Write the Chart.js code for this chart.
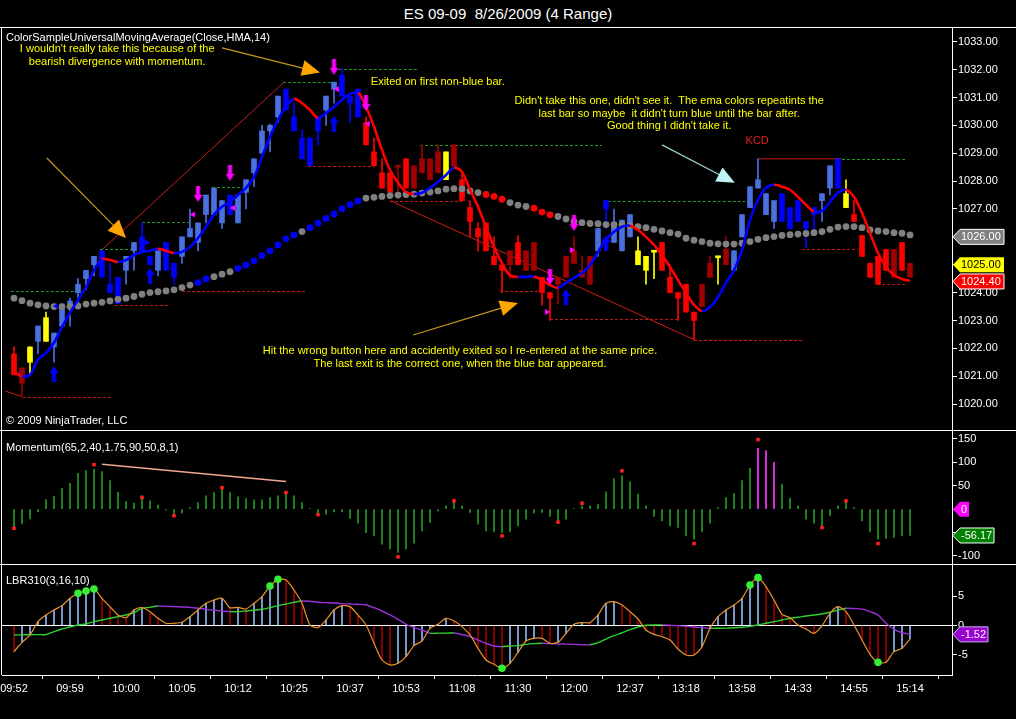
<!DOCTYPE html>
<html>
<head>
<meta charset="utf-8">
<script src="https://cdn.jsdelivr.net/npm/chart.js@4.4.1/dist/chart.umd.min.js"></script>
<style>
body { margin: 0; background: #000; }
#wrap { position: relative; width: 1016px; height: 719px; background: #000; overflow: hidden; }
#title { position: absolute; top: 5px; left: 0; width: 1016px; text-align: center; color: #fff; white-space: pre;
  font: 15px "Liberation Sans", Arial, sans-serif; }
canvas { position: absolute; left: 0; }
</style>
</head>
<body>
<div id="wrap">
  <div id="title">ES 09-09  8/26/2009 (4 Range)</div>
  <canvas id="price" width="1016" height="403" style="top:27px"></canvas>
  <canvas id="mom" width="1016" height="134" style="top:430px"></canvas>
  <canvas id="lbr" width="1016" height="155" style="top:564px"></canvas>
</div>
<script>
// ---- price bars (4 range) ----
const barOpen = [1021.8,1021.3,1021.5,1022.25,1022.25,1022.05,1022.8,1023.5,1024.0,1024.5,
  1025.0,1024.55,1024.0,1023.6,1024.8,1025.5,1025.5,1025.0,1024.8,1024.8,
  1024.55,1025.3,1026.0,1025.8,1026.8,1026.8,1026.5,1026.8,1026.5,1027.6,
  1028.3,1029.0,1029.8,1030.3,1030.55,1029.8,1028.8,1028.55,1029.8,1030.55,
  1031.3,1031.05,1030.8,1030.3,1030.1,1029.05,1028.3,1028.3,1028.55,1028.8,
  1028.55,1028.8,1028.8,1029.05,1028.05,1029.3,1028.05,1027.05,1026.3,1026.5,
  1025.3,1025.0,1025.5,1025.8,1025.5,1025.8,1024.55,1024.0,1024.55,1025.3,
  1025.5,1024.8,1025.3,1025.5,1027.0,1025.8,1025.5,1026.0,1025.5,1025.3,
  1025.5,1025.8,1024.55,1024.0,1024.3,1023.3,1024.3,1025.05,1025.3,1025.55,
  1024.8,1026.0,1027.05,1027.75,1026.8,1026.55,1026.55,1026.3,1026.55,1026.3,
  1026.8,1027.3,1027.75,1027.75,1027.55,1026.8,1026.05,1025.05,1025.3,1025.55,
  1025.55,1025.8,1025.05];
const barHigh = [1022.05,1021.3,1022.05,1022.8,1023.3,1022.55,1023.6,1023.8,1024.5,1024.8,
  1025.3,1025.5,1025.05,1024.55,1025.3,1025.8,1026.5,1025.3,1025.5,1025.8,
  1025.05,1026.0,1027.0,1026.5,1027.5,1027.75,1027.3,1027.5,1027.5,1028.05,
  1028.8,1030.0,1030.05,1031.05,1031.3,1030.8,1029.85,1029.55,1030.3,1031.05,
  1031.55,1032.05,1031.05,1031.3,1030.3,1029.55,1028.8,1028.3,1028.55,1028.8,
  1028.55,1029.3,1028.8,1029.3,1029.05,1029.3,1028.3,1027.3,1026.5,1026.5,
  1026.0,1025.0,1025.5,1026.05,1025.5,1025.8,1024.55,1024.0,1024.55,1025.3,
  1026.0,1025.3,1025.3,1026.3,1027.3,1027.0,1026.6,1026.8,1026.0,1025.3,
  1025.5,1025.8,1025.0,1024.0,1024.3,1023.3,1024.3,1025.3,1025.3,1026.0,
  1025.5,1026.8,1027.8,1028.8,1027.55,1027.3,1027.55,1027.05,1027.3,1026.55,
  1027.05,1027.55,1028.55,1028.8,1028.05,1027.3,1026.05,1025.05,1025.3,1025.55,
  1025.55,1025.8,1025.05];
const barLow = [1021.05,1020.3,1021.05,1021.8,1022.25,1021.5,1022.75,1022.8,1023.5,1024.1,
  1024.6,1024.55,1024.0,1023.6,1024.3,1024.8,1025.5,1025.0,1024.6,1024.8,
  1024.3,1025.05,1026.0,1025.5,1026.5,1026.8,1026.3,1026.8,1026.5,1027.0,
  1027.8,1029.0,1029.05,1030.1,1030.55,1029.8,1028.8,1028.55,1029.3,1030.0,
  1030.8,1031.05,1030.1,1030.3,1029.3,1028.55,1027.75,1027.6,1027.6,1027.75,
  1027.75,1028.3,1028.05,1028.3,1028.05,1028.55,1027.3,1026.0,1025.5,1025.5,
  1025.0,1024.0,1024.5,1025.0,1024.8,1024.8,1023.55,1023.0,1023.6,1024.55,
  1025.05,1024.55,1024.3,1025.3,1026.3,1025.8,1025.5,1026.0,1025.0,1024.3,
  1024.5,1024.8,1024.0,1023.0,1023.3,1022.3,1023.5,1024.55,1024.3,1025.0,
  1024.8,1026.0,1027.05,1027.75,1026.8,1026.3,1026.55,1026.3,1026.55,1025.6,
  1026.25,1026.55,1027.5,1027.75,1027.05,1026.55,1025.3,1024.55,1024.3,1024.8,
  1024.55,1024.8,1024.55];
const barClose = [1021.05,1020.75,1022.05,1022.8,1023.1,1022.55,1023.5,1023.7,1024.3,1024.8,
  1025.3,1025.5,1024.3,1024.55,1025.3,1025.8,1026.0,1025.3,1025.5,1025.8,
  1025.05,1026.0,1026.3,1026.5,1027.5,1027.75,1027.3,1027.5,1027.5,1028.05,
  1028.8,1029.8,1030.0,1031.05,1031.3,1030.3,1029.55,1029.55,1030.3,1031.05,
  1031.55,1031.8,1031.05,1031.3,1029.3,1028.55,1027.75,1027.6,1028.5,1027.75,
  1027.75,1028.3,1028.05,1028.3,1029.05,1028.55,1027.3,1026.55,1026.0,1025.5,
  1025.0,1024.8,1025.0,1025.0,1024.8,1024.8,1024.0,1023.8,1024.3,1024.55,
  1025.05,1024.55,1024.3,1026.3,1027.3,1026.5,1026.6,1026.8,1025.0,1024.8,
  1025.45,1024.8,1024.0,1023.8,1023.3,1023.0,1023.5,1024.55,1025.25,1025.0,
  1025.5,1026.8,1027.8,1028.05,1027.55,1027.3,1027.55,1027.05,1027.3,1026.55,
  1027.05,1027.55,1028.55,1028.8,1027.05,1026.55,1025.3,1024.55,1024.3,1024.8,
  1024.55,1024.8,1024.55];
// R red, D dark red, B blue, L light blue, Y yellow
const barColor = ('RDYLYLLLLL' + 'LBBBLLBBLB' + 'BLLLLLLBLL' + 'LLLLBBBBBL' + 'LBBBRRRRDR' +
  'DDDDYDRRRR' + 'RRDRDDRRDD' + 'DDDLBLLLYY' + 'YRRRRRDDYD' + 'LLLLLLBBBB' + 'BLLBYRRRRR' + 'DRD').split('');

// ---- HMA(14) ----
const hma = [1021.15,1021.0,1021.05,1021.6,1021.83,1022.2,1022.77,1023.27,1023.74,1024.2,
  1024.8,1025.2,1025.17,1025.1,1025.17,1025.35,1025.46,1025.5,1025.57,1025.5,
  1025.42,1025.46,1025.64,1025.96,1026.36,1026.8,1027.08,1027.26,1027.5,1027.76,
  1028.15,1028.87,1029.59,1030.2,1030.67,1030.95,1030.8,1030.55,1030.27,1030.45,
  1030.67,1030.92,1031.13,1031.17,1030.67,1029.95,1029.12,1028.4,1027.94,1027.61,
  1027.54,1027.58,1027.76,1027.97,1028.22,1028.48,1028.33,1027.69,1027.08,1026.36,
  1025.64,1025.06,1024.62,1024.56,1024.57,1024.58,1024.45,1024.27,1024.17,1024.35,
  1024.53,1024.7,1024.99,1025.46,1025.9,1026.18,1026.36,1026.4,1026.25,1026.0,
  1025.71,1025.35,1024.92,1024.45,1023.99,1023.56,1023.34,1023.48,1023.84,1024.35,
  1024.8,1025.53,1026.6,1027.33,1027.76,1027.87,1027.8,1027.69,1027.43,1027.15,
  1026.9,1026.93,1027.26,1027.58,1027.69,1027.43,1026.86,1026.14,1025.42,1024.92,
  1024.63,1024.49,1024.42];

// ---- dotted moving average ----
const maDots = [1023.8,1023.71,1023.62,1023.56,1023.52,1023.5,1023.5,1023.5,1023.52,1023.59,
  1023.62,1023.65,1023.7,1023.76,1023.8,1023.86,1023.94,1024.0,1024.03,1024.06,
  1024.1,1024.18,1024.27,1024.36,1024.49,1024.57,1024.66,1024.75,1024.87,1024.99,
  1025.14,1025.33,1025.5,1025.71,1025.93,1026.07,1026.19,1026.33,1026.49,1026.66,
  1026.82,1027.01,1027.16,1027.29,1027.39,1027.42,1027.45,1027.48,1027.5,1027.52,
  1027.53,1027.57,1027.61,1027.65,1027.71,1027.73,1027.72,1027.65,1027.59,1027.52,
  1027.45,1027.35,1027.23,1027.14,1027.09,1027.03,1026.89,1026.79,1026.73,1026.64,
  1026.55,1026.51,1026.48,1026.47,1026.44,1026.44,1026.43,1026.4,1026.37,1026.33,
  1026.27,1026.21,1026.15,1026.1,1025.95,1025.88,1025.83,1025.77,1025.75,1025.74,
  1025.74,1025.77,1025.83,1025.91,1025.97,1026.01,1026.05,1026.08,1026.1,1026.12,
  1026.15,1026.19,1026.27,1026.35,1026.37,1026.37,1026.33,1026.25,1026.21,1026.19,
  1026.15,1026.13,1026.07];
// G grey, B blue, R red
const maColor = ('GGGGGGGGGGGGGGGGGGGGGGG' + 'BB' + 'GGG' + 'BBBBBBBB' + 'G' + 'BBBBBBB' +
  'GGGGGGGGGGGGGGG' + 'RRR' + 'GGG' + 'RRR' +
  'GGGGGGGGGGGGGGGGGGGGGGGGGGGGGGGGGGGGGGGGGGGGG').split('');

// ---- trade markers ----
const entryIdx = [5, 17, 40, 69, 74];
const entryPrice = [1021.08, 1024.6, 1030.06, 1023.84, 1025.78];
const exitIdx = [23, 27, 40, 44, 67, 70];
const exitPrice = [1027.54, 1028.3, 1032.1, 1030.8, 1024.56, 1026.5];
const triIdx = [22.4, 27.4, 40.4, 44.25, 69.7, 66.6, 5.3, 16.6];
const triPrice = [1026.8, 1027.04, 1031.3, 1030.06, 1025.53, 1023.3, 1023.52, 1025.8];
const triDir = ['L', 'L', 'L', 'L', 'R', 'R', 'L', 'R'];
const triKind = ['m', 'm', 'm', 'm', 'm', 'm', 'b', 'b'];

// swing levels: [from bar, to bar, price]
const resistLevels = [[-0.4, 7.6, 1024.06], [10.75, 14.75, 1025.56], [16, 22, 1026.53], [24.75, 28.6, 1027.8],
  [33.6, 40, 1031.55], [40.6, 50.5, 1032.02], [50.75, 73.5, 1029.3], [73.6, 91.4, 1027.27], [103.5, 111.6, 1028.8]];
const supportLevels = [[1.1, 12.4, 1020.26], [12.6, 19.5, 1023.56], [21, 36.4, 1024.06], [36.75, 45.1, 1028.55],
  [47, 56, 1027.3], [60.75, 66.1, 1024.06], [67, 83, 1023.04], [85, 98.5, 1022.3], [98.5, 105.5, 1025.57],
  [107.9, 111.6, 1024.3]];
const trendLines = [[11.1, 1025.56, 33.75, 1031.55], [47, 1027.3, 85.1, 1022.3], [93, 1028.8, 103.5, 1028.8],
  [-1.1, 1020.47, 1, 1020.26]];

const priceTicks = [1020, 1021, 1022, 1023, 1024, 1025, 1026, 1027, 1028, 1029, 1030, 1031, 1032, 1033];

// ---- momentum ----
const momentum = [-39,-31.6,-20.9,-5.3,20.3,27.4,44.5,55.2,76.6,82.3,
  85.8,80.1,60.9,35.9,16,13.1,28.8,18.1,8.8,-2,
  -10.5,-8.3,3.6,14.2,28.5,35.6,42.7,35.6,26.4,22.8,
  20,20,25,28.5,32.1,28.5,14.2,1.4,-8.5,-10.7,
  -5.7,-5.7,-19.9,-29.9,-49.9,-57,-74.8,-85.5,-92.6,-85.5,
  -72.7,-46.3,-28.5,-3.6,7.1,20,7.1,-7.1,-32,-46.3,
  -48.4,-50,-48.4,-35.6,-21.4,-8.5,-7.1,-15.7,-24.9,-21.4,
  1.4,7.1,7.1,10,37,65.5,71.2,58.4,32.1,7.1,
  -15.7,-24.9,-35.6,-39.2,-57,-64.1,-48.4,-29.9,3.6,25,
  33.5,60.9,87.3,130,125,100,53.8,23.2,7.1,-21.4,
  -29.9,-35.6,-14.2,7.1,15.7,3.6,-24.9,-48.4,-64.1,-62.7,
  -60.5,-57,-56.2];
const momHotBars = [93, 94, 95];
const momMarkIdx = [0, 10, 16, 20, 26, 34, 38, 48, 55, 61, 68, 71, 76, 85, 93, 101, 104, 108];
const momMarkVal = [-40.8, 95, 25, -14, 46, 35.6, -11.8, -101.9, 17.9, -57, -27.6, 12.8, 81.9, -73.4, 148.6, -39.2, 17.9, -73.4];
const momDivIdx = [11, 34];
const momDivVal = [96, 59];
const momTicks = [-100, -50, 0, 50, 100, 150];

// ---- LBR310 ----
const lbrFast = [-4.48,-2.89,-1.62,0.66,1.8,2.66,3.4,4.65,5.51,5.9,
  6.25,4.65,3.23,1.8,1.34,2.66,3.05,2.37,1.23,0.38,
  0.38,0.55,1.51,2.66,3.8,4.37,4.65,3.05,3.11,2.83,
  3.8,4.94,6.76,7.9,7.79,6.08,3.8,0.09,-0.37,0.94,
  2.66,3.4,3.23,1.8,0.09,-3.05,-5.91,-6.76,-6.48,-5.34,
  -3.45,-2.66,-0.49,0.2,1.23,0.77,-0.2,-1.62,-3.91,-5.91,
  -6.65,-7.33,-6.48,-4.6,-2.66,-2.2,-2.2,-3.05,-2.89,-1.35,
  0.2,0.49,0.49,1.8,3.8,4.08,3.51,2.37,1.12,-0.77,
  -1.52,-1.92,-2.49,-4.03,-5.05,-5.05,-3.63,-0.49,1.51,2.66,
  3.51,4.65,6.93,8.19,6.65,4.37,1.91,1.34,0.09,-0.6,
  -1.35,-0.03,2.09,3.23,2.37,0.09,-2.49,-4.94,-6.31,-6.31,
  -4.48,-3.91,-2.32];
const lbrSlow = [-1.62,-1.6,-1.58,-1.56,-1.54,-1.05,-0.6,-0.26,0.09,0.26,
  0.66,0.94,1.23,1.51,1.8,2.2,2.94,3.11,3.34,3.28,
  3.23,3.17,3.11,2.94,2.77,2.6,2.48,2.37,2.38,2.48,
  2.6,2.77,3.05,3.4,3.68,3.97,4.2,4.14,3.97,3.91,
  3.86,3.74,3.68,3.63,3.51,3.05,2.48,1.8,1.06,0.2,
  -0.37,-0.77,-1.32,-1.31,-1.3,-1.29,-1.54,-1.92,-2.49,-3.05,
  -3.51,-3.63,-3.51,-3.45,-3.23,-3.11,-3.05,-3.1,-3.15,-3.2,
  -3.24,-3.28,-3.3,-2.94,-2.32,-1.75,-1.24,-0.72,-0.26,0.03,
  0.09,0.1,0.03,-0.03,-0.14,-0.26,-0.37,-0.49,-0.47,-0.45,
  -0.4,-0.3,-0.15,0.09,0.38,0.66,0.94,1.23,1.4,1.63,
  1.8,1.97,2.26,2.66,2.94,2.9,2.8,2.37,1.8,0.38,
  -0.66,-1.24,-1.52];
const lbrDotIdx = [8, 9, 10, 32, 33, 61, 92, 93, 108];
const lbrTicks = [-5, 0, 5];

const timeIdx = [0, 7, 14, 21, 28, 35, 42, 49, 56, 63, 70, 77, 84, 91, 98, 105, 112];
const timeLabels = ['09:52', '09:59', '10:00', '10:05', '10:12', '10:25', '10:37', '10:53', '11:08',
  '11:30', '12:00', '12:37', '13:18', '13:58', '14:33', '14:55', '15:14'];

// ---------------------------------------------------------------
const FONT = '"Liberation Sans", Arial, sans-serif';
Chart.defaults.font.family = FONT;
Chart.defaults.font.size = 11;
Chart.defaults.color = '#fff';
Chart.defaults.animation = false;
Chart.defaults.events = [];
Chart.defaults.plugins.legend.display = false;
Chart.defaults.plugins.tooltip.enabled = false;

const candleCols = { R: '#ff0000', D: '#a00000', B: '#0000ff', L: '#4a70e0', Y: '#ffff00' };
const dotCols = { G: '#808080', B: '#0000ff', R: '#ff0000' };
const X_MIN = -1.5, X_MAX = 117.25;
const idx = barOpen.map((_, i) => i);
const panelLayout = { autoPadding: false, padding: { left: 2, top: 0, right: 0, bottom: 0 } };

function arrowImg(color, up) {
  const c = document.createElement('canvas');
  c.width = 9; c.height = 16;
  const g = c.getContext('2d');
  g.fillStyle = color;
  g.beginPath();
  if (up) {
    g.moveTo(4.5, 0); g.lineTo(9, 7); g.lineTo(6.5, 7); g.lineTo(6.5, 16); g.lineTo(2.5, 16); g.lineTo(2.5, 7); g.lineTo(0, 7);
  } else {
    g.moveTo(4.5, 16); g.lineTo(9, 9); g.lineTo(6.5, 9); g.lineTo(6.5, 0); g.lineTo(2.5, 0); g.lineTo(2.5, 9); g.lineTo(0, 9);
  }
  g.closePath(); g.fill();
  return c;
}

function barAxis(extra) {
  return Object.assign({
    type: 'linear', min: X_MIN, max: X_MAX, offset: false, display: false
  }, extra || {});
}

function rightAxis(min, max, ticks, fmt) {
  return {
    position: 'right', min, max,
    afterBuildTicks: s => { s.ticks = ticks.map(v => ({ value: v })); },
    afterFit: s => { s.width = 64; s.paddingTop = 0; s.paddingBottom = 0; },
    ticks: { color: '#fff', padding: 1, callback: fmt },
    grid: { drawOnChartArea: false, color: '#fff', tickLength: 5 },
    border: { color: '#fff' }
  };
}

function drawFlag(ctx, x, y, w, text, bg, fg, edge) {
  ctx.save();
  ctx.beginPath();
  ctx.moveTo(x, y); ctx.lineTo(x + 7, y - 7.5); ctx.lineTo(x + w, y - 7.5);
  ctx.lineTo(x + w, y + 7.5); ctx.lineTo(x + 7, y + 7.5); ctx.closePath();
  ctx.fillStyle = bg; ctx.fill();
  if (edge) { ctx.strokeStyle = edge; ctx.lineWidth = 1; ctx.stroke(); }
  ctx.fillStyle = fg; ctx.font = '11px ' + FONT;
  ctx.textAlign = 'left'; ctx.textBaseline = 'middle';
  ctx.fillText(text, x + 8, y + 0.5);
  ctx.restore();
}

const framePlugin = {
  id: 'frame',
  afterDraw(chart) {
    const { ctx, chartArea } = chart;
    ctx.save();
    ctx.strokeStyle = '#fff'; ctx.lineWidth = 1;
    ctx.beginPath();
    ctx.moveTo(0, 0.5); ctx.lineTo(chart.width, 0.5);
    ctx.moveTo(1.5, 0); ctx.lineTo(1.5, chartArea.bottom);
    ctx.stroke();
    ctx.restore();
  }
};

function drawArrow(ctx, x0, y0, x1, y1, lineCol, headCol) {
  const a = Math.atan2(y1 - y0, x1 - x0), L = 18, H = 8;
  ctx.strokeStyle = lineCol; ctx.lineWidth = 1.2;
  ctx.beginPath(); ctx.moveTo(x0, y0); ctx.lineTo(x1 - L * Math.cos(a) * 0.6, y1 - L * Math.sin(a) * 0.6); ctx.stroke();
  ctx.fillStyle = headCol;
  ctx.beginPath();
  ctx.moveTo(x1, y1);
  ctx.lineTo(x1 - L * Math.cos(a) + H * Math.sin(a), y1 - L * Math.sin(a) - H * Math.cos(a));
  ctx.lineTo(x1 - L * Math.cos(a) - H * Math.sin(a), y1 - L * Math.sin(a) + H * Math.cos(a));
  ctx.closePath(); ctx.fill();
}

// annotations on the price panel, placed in bar/price units
const priceNotes = [
  { t: "I wouldn't really take this because of the", i: 12.9, p: 1032.75, c: '#ffff00', a: 'center' },
  { t: 'bearish divergence with momentum.', i: 12.9, p: 1032.28, c: '#ffff00', a: 'center' },
  { t: 'Exited on first non-blue bar.', i: 44.6, p: 1031.56, c: '#ffff00', a: 'left' },
  { t: "Didn't take this one, didn't see it.  The ema colors repeatints the", i: 81.9, p: 1030.88, c: '#ffff00', a: 'center' },
  { t: "last bar so maybe  it didn't turn blue until the bar after.", i: 81.9, p: 1030.41, c: '#ffff00', a: 'center' },
  { t: "Good thing I didn't take it.", i: 81.9, p: 1029.98, c: '#ffff00', a: 'center' },
  { t: 'KCD', i: 92.9, p: 1029.45, c: '#e02020', a: 'center' },
  { t: 'Hit the wrong button here and accidently exited so I re-entered at the same price.', i: 55.75, p: 1021.9, c: '#ffff00', a: 'center' },
  { t: 'The last exit is the correct one, when the blue bar appeared.', i: 55.75, p: 1021.44, c: '#ffff00', a: 'center' }
];
const priceArrows = [
  { from: [26, 1032.78], to: [38.25, 1031.9], line: '#c8961e', head: '#ffa500' },
  { from: [4.1, 1028.83], to: [14, 1025.96], line: '#c8961e', head: '#ffa500' },
  { from: [49.9, 1022.48], to: [63, 1023.63], line: '#c8961e', head: '#ffa500' },
  { from: [81, 1029.3], to: [90.1, 1027.94], line: '#9ccfcf', head: '#bff2f2' }
];

const levelPlugin = {
  id: 'levels',
  beforeDatasetsDraw(chart) {
    const { ctx, scales: { x, y } } = chart;
    ctx.save();
    ctx.lineWidth = 1;
    ctx.setLineDash([3, 2]);
    ctx.strokeStyle = '#1f9a1f';
    resistLevels.forEach(([a, b, p]) => {
      const yy = Math.round(y.getPixelForValue(p)) + 0.5;
      ctx.beginPath(); ctx.moveTo(x.getPixelForValue(a), yy); ctx.lineTo(x.getPixelForValue(b), yy); ctx.stroke();
    });
    ctx.strokeStyle = '#c01818';
    supportLevels.forEach(([a, b, p]) => {
      const yy = Math.round(y.getPixelForValue(p)) + 0.5;
      ctx.beginPath(); ctx.moveTo(x.getPixelForValue(a), yy); ctx.lineTo(x.getPixelForValue(b), yy); ctx.stroke();
    });
    ctx.setLineDash([]);
    ctx.strokeStyle = '#d01c1c';
    trendLines.forEach(([a, pa, b, pb]) => {
      ctx.beginPath(); ctx.moveTo(x.getPixelForValue(a), y.getPixelForValue(pa));
      ctx.lineTo(x.getPixelForValue(b), y.getPixelForValue(pb)); ctx.stroke();
    });
    ctx.restore();
  },
  afterDraw(chart) {
    const { ctx, chartArea, scales: { x, y } } = chart;
    ctx.save();
    priceArrows.forEach(ar => drawArrow(ctx, x.getPixelForValue(ar.from[0]), y.getPixelForValue(ar.from[1]),
      x.getPixelForValue(ar.to[0]), y.getPixelForValue(ar.to[1]), ar.line, ar.head));
    ctx.font = '11px ' + FONT;
    ctx.textBaseline = 'middle';
    priceNotes.forEach(n => {
      ctx.fillStyle = n.c; ctx.textAlign = n.a;
      ctx.fillText(n.t, x.getPixelForValue(n.i), y.getPixelForValue(n.p));
    });
    ctx.fillStyle = '#fff'; ctx.textAlign = 'left';
    ctx.fillText('ColorSampleUniversalMovingAverage(Close,HMA,14)', chartArea.left + 4, 11);
    ctx.fillText('\u00a9 2009 NinjaTrader, LLC', chartArea.left + 4, chartArea.bottom - 9);
    const ax = chartArea.right + 1;
    drawFlag(ctx, ax, y.getPixelForValue(1026.0), 51, '1026.00', '#808080', '#fff', '#fff');
    drawFlag(ctx, ax, y.getPixelForValue(1025.0), 51, '1025.00', '#ffff00', '#000', null);
    drawFlag(ctx, ax, y.getPixelForValue(1024.4), 51, '1024.40', '#ff0000', '#fff', '#fff');
    ctx.restore();
  }
};

// ---------------- price panel ----------------
new Chart(document.getElementById('price'), {
  type: 'bar',
  data: {
    datasets: [
      { type: 'line', data: exitIdx.map((v, k) => ({ x: v, y: exitPrice[k] })), showLine: false,
        pointStyle: arrowImg('#ff00ff', false), pointRadius: 8 },
      { type: 'line', data: entryIdx.map((v, k) => ({ x: v, y: entryPrice[k] })), showLine: false,
        pointStyle: arrowImg('#0000ff', true), pointRadius: 8 },
      { type: 'line', data: triIdx.map((v, k) => ({ x: v, y: triPrice[k] })), showLine: false,
        pointStyle: 'triangle', pointRadius: 3.5, borderWidth: 0,
        pointRotation: triDir.map(d => d === 'L' ? -90 : 90),
        pointBackgroundColor: triKind.map(k => k === 'm' ? '#ff00ff' : '#0000ff') },
      { type: 'line', data: idx.map(i => ({ x: i, y: hma[i] })), borderWidth: 2.6, pointRadius: 0, tension: 0.35,
        segment: { borderColor: c => c.p1.parsed.y >= c.p0.parsed.y ? '#0000ff' : '#ff0000' } },
      { type: 'line', data: idx.map(i => ({ x: i, y: maDots[i] })), showLine: false, pointRadius: 3.4,
        borderWidth: 0, pointBackgroundColor: maColor.map(c => dotCols[c]) },
      { data: idx.map(i => ({ x: i, y: [barOpen[i], barClose[i]] })), grouped: false, barThickness: 5,
        minBarLength: 2, backgroundColor: barColor.map(c => candleCols[c]) },
      { data: idx.map(i => ({ x: i, y: [barLow[i], barHigh[i]] })), grouped: false, barThickness: 1,
        backgroundColor: barColor.map(c => candleCols[c]) }
    ]
  },
  options: {
    responsive: false,
    layout: panelLayout,
    scales: {
      x: barAxis(),
      y: rightAxis(1019.07, 1033.53, priceTicks, v => v.toFixed(2))
    }
  },
  plugins: [framePlugin, levelPlugin]
});

// ---------------- momentum panel ----------------
new Chart(document.getElementById('mom'), {
  type: 'bar',
  data: {
    datasets: [
      { type: 'line', data: momMarkIdx.map((v, k) => ({ x: v, y: momMarkVal[k] })), showLine: false,
        pointStyle: 'rect', pointRadius: 2.5, borderWidth: 0, pointBackgroundColor: '#ff2020' },
      { type: 'line', data: momDivIdx.map((v, k) => ({ x: v, y: momDivVal[k] })), borderColor: '#f0a890',
        borderWidth: 1.5, pointRadius: 0 },
      { data: idx.map(i => ({ x: i, y: momentum[i] })), grouped: false, barThickness: 1,
        backgroundColor: idx.map(i => momHotBars.includes(i) ? '#ff33ff' : '#249a24') }
    ]
  },
  options: {
    responsive: false,
    layout: panelLayout,
    scales: {
      x: barAxis(),
      y: rightAxis(-117.1, 169.2, momTicks, v => String(v))
    }
  },
  plugins: [framePlugin, {
    id: 'momText',
    afterDraw(chart) {
      const { ctx, chartArea, scales: { y } } = chart;
      ctx.save();
      ctx.fillStyle = '#fff'; ctx.font = '11px ' + FONT; ctx.textBaseline = 'middle'; ctx.textAlign = 'left';
      ctx.fillText('Momentum(65,2,40,1.75,90,50,8,1)', chartArea.left + 4, 18);
      drawFlag(ctx, chartArea.right + 1, y.getPixelForValue(0), 16, '0', '#ff00ff', '#fff', null);
      drawFlag(ctx, chartArea.right + 1, y.getPixelForValue(-56.17), 41, '-56.17', '#008000', '#fff', '#fff');
      ctx.restore();
    }
  }]
});

// ---------------- LBR310 panel ----------------
new Chart(document.getElementById('lbr'), {
  type: 'bar',
  data: {
    datasets: [
      { type: 'line', data: lbrDotIdx.map(i => ({ x: i, y: lbrFast[i] })), showLine: false,
        pointRadius: 3.8, borderWidth: 0, pointBackgroundColor: '#33ee33' },
      { type: 'line', data: idx.map(i => ({ x: i, y: lbrFast[i] })), borderColor: '#e8922a', borderWidth: 1.2,
        pointRadius: 0, tension: 0.25 },
      { type: 'line', data: idx.map(i => ({ x: i, y: lbrSlow[i] })), borderWidth: 1.4, pointRadius: 0, tension: 0.3,
        segment: { borderColor: c => c.p1.parsed.y >= c.p0.parsed.y ? '#2ed02e' : '#9a30d8' } },
      { data: idx.map(i => ({ x: i, y: lbrFast[i] })), grouped: false, barThickness: 1,
        backgroundColor: idx.map(i => i > 0 && lbrFast[i] > lbrFast[i - 1] ? '#94b4f4' : '#a00000') }
    ]
  },
  options: {
    responsive: false,
    layout: panelLayout,
    scales: {
      x: barAxis({
        display: true, position: 'bottom',
        afterBuildTicks: s => { s.ticks = timeIdx.map(v => ({ value: v })); },
        afterFit: s => { s.height = 44; s.paddingLeft = 0; s.paddingRight = 0; },
        ticks: { color: '#fff', autoSkip: false, maxRotation: 0, padding: 3, callback: (v, k) => timeLabels[k] },
        grid: { drawOnChartArea: false, color: '#fff', tickLength: 4 },
        border: { color: '#fff' }
      }),
      y: rightAxis(-8.48, 10.53, lbrTicks, v => String(v))
    }
  },
  plugins: [framePlugin, {
    id: 'lbrText',
    beforeDatasetsDraw(chart) {
      const { ctx, chartArea, scales: { y } } = chart;
      const y0 = Math.round(y.getPixelForValue(0)) + 0.5;
      ctx.save(); ctx.strokeStyle = '#fff'; ctx.lineWidth = 1;
      ctx.beginPath(); ctx.moveTo(chartArea.left, y0); ctx.lineTo(chartArea.right, y0); ctx.stroke();
      ctx.restore();
    },
    afterDraw(chart) {
      const { ctx, chartArea, scales: { y } } = chart;
      ctx.save();
      ctx.fillStyle = '#fff'; ctx.font = '11px ' + FONT; ctx.textBaseline = 'middle'; ctx.textAlign = 'left';
      ctx.fillText('LBR310(3,16,10)', chartArea.left + 4, 17);
      drawFlag(ctx, chartArea.right + 1, y.getPixelForValue(-1.52), 35, '-1.52', '#9a00d0', '#fff', '#c8b8f0');
      ctx.restore();
    }
  }]
});
</script>
</body>
</html>
